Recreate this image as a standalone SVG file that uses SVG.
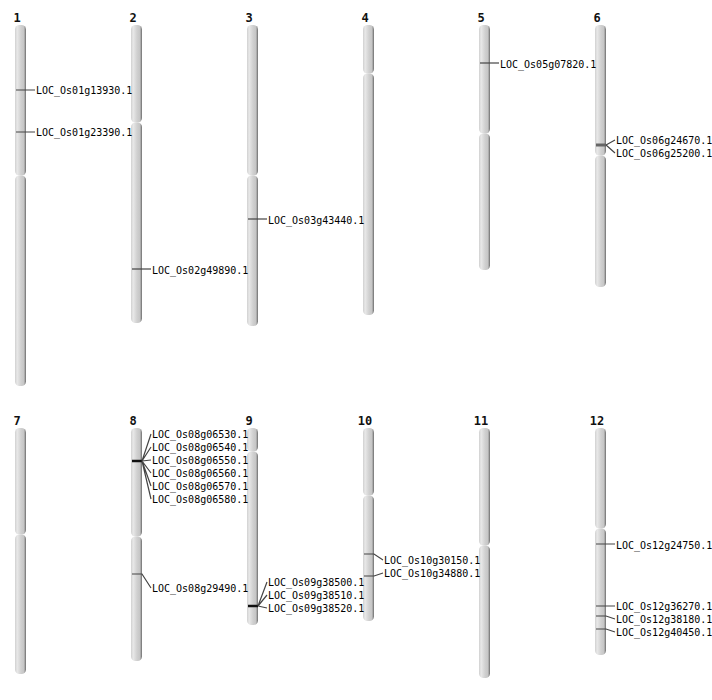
<svg xmlns="http://www.w3.org/2000/svg" width="712" height="700" viewBox="0 0 712 700">
<defs>
<linearGradient id="cg" x1="0" y1="0" x2="1" y2="0">
<stop offset="0" stop-color="#d0d0d0"/>
<stop offset="0.2" stop-color="#e8e8e8"/>
<stop offset="0.55" stop-color="#d0d0d0"/>
<stop offset="0.8" stop-color="#c6c6c6"/>
<stop offset="0.92" stop-color="#969696"/>
<stop offset="1" stop-color="#666666"/>
</linearGradient>
<style>
.arm{fill:url(#cg);}
.num{font-family:"DejaVu Sans Mono",monospace;font-weight:bold;font-size:12px;fill:#111;text-anchor:middle;}
.lab{font-family:"DejaVu Sans Mono",monospace;font-size:10px;fill:#000;}
.m{stroke:#444;stroke-width:1.2;fill:none;}
.b{stroke:#111;stroke-width:2.5;fill:none;}
.g{stroke:#666;stroke-width:3;fill:none;}
</style>
</defs>
<rect width="712" height="700" fill="#fff"/>
<g id="chr1"><text class="num" x="17" y="22">1</text>
<rect class="arm" x="15" y="25" width="11" height="150.5" rx="4.5"/>
<rect class="arm" x="15" y="175.5" width="11" height="210.5" rx="4.5"/></g>
<g id="chr2"><text class="num" x="133" y="22">2</text>
<rect class="arm" x="131" y="25" width="11" height="97.5" rx="4.5"/>
<rect class="arm" x="131" y="122.5" width="11" height="200.5" rx="4.5"/></g>
<g id="chr3"><text class="num" x="249" y="22">3</text>
<rect class="arm" x="247" y="25" width="11" height="150.5" rx="4.5"/>
<rect class="arm" x="247" y="175.5" width="11" height="150.5" rx="4.5"/></g>
<g id="chr4"><text class="num" x="365" y="22">4</text>
<rect class="arm" x="363" y="25" width="11" height="48.5" rx="4.5"/>
<rect class="arm" x="363" y="73.5" width="11" height="241.5" rx="4.5"/></g>
<g id="chr5"><text class="num" x="481" y="22">5</text>
<rect class="arm" x="479" y="25" width="11" height="108.5" rx="4.5"/>
<rect class="arm" x="479" y="133.5" width="11" height="136.5" rx="4.5"/></g>
<g id="chr6"><text class="num" x="597" y="22">6</text>
<rect class="arm" x="595" y="25" width="11" height="130.5" rx="4.5"/>
<rect class="arm" x="595" y="155.5" width="11" height="131.5" rx="4.5"/></g>
<g id="chr7"><text class="num" x="17" y="425">7</text>
<rect class="arm" x="15" y="428" width="11" height="106.5" rx="4.5"/>
<rect class="arm" x="15" y="534.5" width="11" height="139.5" rx="4.5"/></g>
<g id="chr8"><text class="num" x="133" y="425">8</text>
<rect class="arm" x="131" y="428" width="11" height="108.5" rx="4.5"/>
<rect class="arm" x="131" y="536.5" width="11" height="124.5" rx="4.5"/></g>
<g id="chr9"><text class="num" x="249" y="425">9</text>
<rect class="arm" x="247" y="428" width="11" height="23.5" rx="4.5"/>
<rect class="arm" x="247" y="451.5" width="11" height="173.5" rx="4.5"/></g>
<g id="chr10"><text class="num" x="365" y="425">10</text>
<rect class="arm" x="363" y="428" width="11" height="67.5" rx="4.5"/>
<rect class="arm" x="363" y="495.5" width="11" height="125.5" rx="4.5"/></g>
<g id="chr11"><text class="num" x="481" y="425">11</text>
<rect class="arm" x="479" y="428" width="11" height="117.5" rx="4.5"/>
<rect class="arm" x="479" y="545.5" width="11" height="132.5" rx="4.5"/></g>
<g id="chr12"><text class="num" x="597" y="425">12</text>
<rect class="arm" x="595" y="428" width="11" height="100.5" rx="4.5"/>
<rect class="arm" x="595" y="528.5" width="11" height="126.5" rx="4.5"/></g>
<g id="connectors">
<path class="m" d="M16,90H35 M16,132H35"/>
<path class="m" d="M132,269H151"/>
<path class="m" d="M248,219H267"/>
<path class="m" d="M480,63H499"/>
<path class="g" d="M596,145H606"/>
<path class="m" d="M606,145L615,140 M606,145L615,153"/>
<path class="b" d="M132,461H142"/>
<path class="m" d="M142,461L151,434 M142,461L151,447 M142,461L151,460 M142,461L151,473 M142,461L151,486 M142,461L151,499"/>
<path class="m" d="M132,574H142L151,588"/>
<path class="b" d="M248,606H258"/>
<path class="m" d="M258,606L267,582 M258,606L267,595 M258,606L267,608"/>
<path class="m" d="M364,554H374L383,560 M364,576H374L383,573"/>
<path class="m" d="M596,544H615 M596,606H606L615,606 M596,616H606L615,619 M596,629H606L615,632"/>
</g>
<g id="labels">
<text class="lab" x="36" y="93.5">LOC_Os01g13930.1</text>
<text class="lab" x="36" y="135.5">LOC_Os01g23390.1</text>
<text class="lab" x="152" y="273.5">LOC_Os02g49890.1</text>
<text class="lab" x="268" y="223.5">LOC_Os03g43440.1</text>
<text class="lab" x="500" y="67.5">LOC_Os05g07820.1</text>
<text class="lab" x="616" y="143.5">LOC_Os06g24670.1</text>
<text class="lab" x="616" y="156.5">LOC_Os06g25200.1</text>
<text class="lab" x="152" y="437.5">LOC_Os08g06530.1</text>
<text class="lab" x="152" y="450.5">LOC_Os08g06540.1</text>
<text class="lab" x="152" y="463.5">LOC_Os08g06550.1</text>
<text class="lab" x="152" y="476.5">LOC_Os08g06560.1</text>
<text class="lab" x="152" y="489.5">LOC_Os08g06570.1</text>
<text class="lab" x="152" y="502.5">LOC_Os08g06580.1</text>
<text class="lab" x="152" y="591.5">LOC_Os08g29490.1</text>
<text class="lab" x="268" y="585.5">LOC_Os09g38500.1</text>
<text class="lab" x="268" y="598.5">LOC_Os09g38510.1</text>
<text class="lab" x="268" y="611.5">LOC_Os09g38520.1</text>
<text class="lab" x="384" y="563.5">LOC_Os10g30150.1</text>
<text class="lab" x="384" y="576.5">LOC_Os10g34880.1</text>
<text class="lab" x="616" y="548.5">LOC_Os12g24750.1</text>
<text class="lab" x="616" y="609.5">LOC_Os12g36270.1</text>
<text class="lab" x="616" y="622.5">LOC_Os12g38180.1</text>
<text class="lab" x="616" y="635.5">LOC_Os12g40450.1</text>
</g>
</svg>
